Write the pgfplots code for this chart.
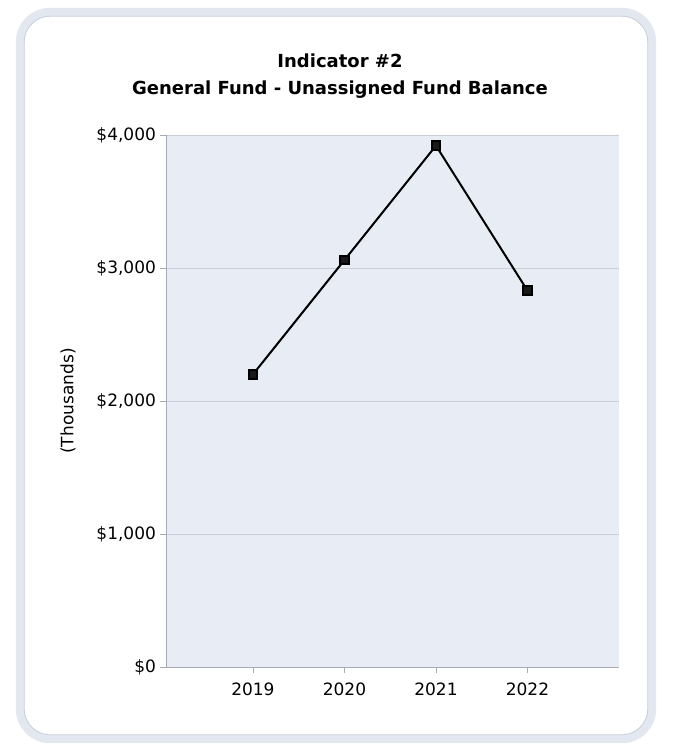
\documentclass[border=0pt]{standalone}
\usepackage{fontspec}
\setmainfont{DejaVu Sans}
\usepackage{pgfplots}
\pgfplotsset{compat=1.18}
\definecolor{plotbg}{RGB}{232,236,244}
\definecolor{gridc}{RGB}{200,205,214}
\definecolor{framec}{RGB}{226,231,240}
\definecolor{frameedge}{RGB}{200,206,218}
\definecolor{axisc}{RGB}{165,170,180}
\begin{document}
\begin{tikzpicture}
\path[use as bounding box] (0pt,0pt) rectangle (337.5pt,-377.5pt);
\draw[framec, line width=4.2pt, rounded corners=15pt] (10pt,-6pt) rectangle (326pt,-369.5pt);
\draw[frameedge, line width=0.4pt, rounded corners=13pt] (12.1pt,-8.1pt) rectangle (323.9pt,-367.4pt);
\node[font=\fontsize{9}{13.5}\selectfont\bfseries, align=center] at (170pt,-38.25pt) {Indicator \#2\\General Fund - Unassigned Fund Balance};
\begin{axis}[
 at={(83pt,-333.5pt)}, anchor=south west,
 scale only axis, width=226.5pt, height=266pt,
 xmin=2018.05, xmax=2023, ymin=0, ymax=4000,
 axis x line*=bottom, axis y line*=left,
 axis line style={axisc, line width=0.4pt},
 axis background/.style={fill=plotbg},
 xtick={2019,2020,2021,2022}, xticklabels={2019,2020,2021,2022},
 ytick={0,1000,2000,3000,4000}, yticklabels={{\$0},{\$1,000},{\$2,000},{\$3,000},{\$4,000}},
 tick align=outside, major tick length=3pt, tick style={axisc, line width=0.4pt},
 ymajorgrids, grid style={gridc, line width=0.5pt},
 ticklabel style={font=\fontsize{8.5}{10}\selectfont},
 yticklabel style={xshift=1.5pt},
 xticklabel style={yshift=-1.5pt},
 /pgf/number format/assume math mode=true,
 ylabel={(Thousands)},
 every axis y label/.style={at={(rel axis cs:-0.216,0.5)}, rotate=90, anchor=center},
 ylabel style={font=\fontsize{8.5}{10}\selectfont},
 clip=false,
]
\addplot[black, line width=1pt, mark=square*, mark size=2.2pt, mark options={fill=black!90}] coordinates {(2019,2200) (2020,3060) (2021,3920) (2022,2830)};
\end{axis}
\end{tikzpicture}
\end{document}
